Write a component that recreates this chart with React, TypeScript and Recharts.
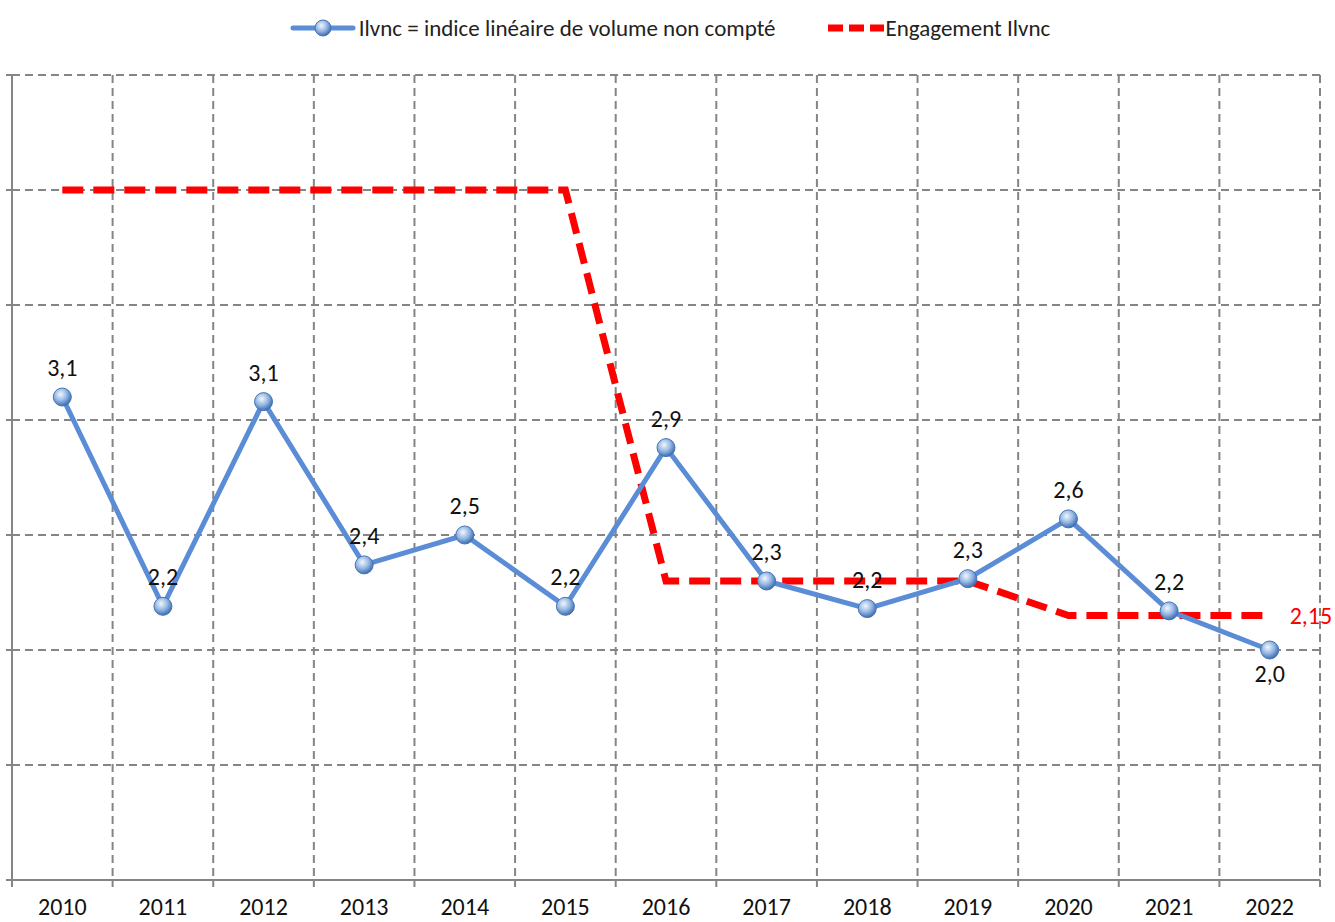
import React from 'react';
import { LineChart, Line, XAxis, YAxis, CartesianGrid, Legend, LabelList } from 'recharts';

const YEARS = ['2010', '2011', '2012', '2013', '2014', '2015', '2016', '2017', '2018', '2019', '2020', '2021', '2022'];
const ILVNC = [3.1, 2.19, 3.08, 2.37, 2.5, 2.19, 2.88, 2.3, 2.18, 2.31, 2.57, 2.17, 2.0];
const ENGAGEMENT = [4.0, 4.0, 4.0, 4.0, 4.0, 4.0, 2.3, 2.3, 2.3, 2.3, 2.15, 2.15, 2.15];
const Y_TICKS = [1, 1.5, 2, 2.5, 3, 3.5, 4, 4.5];

const data = YEARS.map((year, i) => ({ year, ilvnc: ILVNC[i], engagement: ENGAGEMENT[i] }));

const W = 1335;
const H = 922;
const M = { top: 0, right: 15, left: 0, bottom: 0 };
const Y_AXIS_W = 12;
const BAND = (W - M.right - Y_AXIS_W) / YEARS.length;

const FONT = 'Carlito, Lato, "Noto Sans", sans-serif';
const BLUE = '#5b8dd6';
const RED = '#ff0000';
const GRID = '#858585';

const fmt = (v: number) => v.toFixed(1).replace('.', ',');

const Sphere = (props: any) => {
  const { cx, cy } = props;
  if (cx == null || cy == null) return null;
  return <circle cx={cx} cy={cy} r={9} fill="url(#sphere)" stroke="#4574b5" strokeWidth={1} />;
};

const ValueLabel = (props: any) => {
  const { x, y, value, index } = props;
  if (x == null || y == null) return null;
  const below = index === ILVNC.length - 1;
  return (
    <text x={x} y={below ? y + 32 : y - 21} textAnchor="middle" fontSize={24} fill="#111" fontFamily={FONT}>
      {fmt(value)}
    </text>
  );
};

// only the last step of the commitment gets its value written
const TargetLabel = (props: any) => {
  const { x, y, value, index } = props;
  if (index !== ENGAGEMENT.length - 1 || x == null) return null;
  return (
    <text x={x + 20} y={y + 8} fontSize={24} fill={RED} fontFamily={FONT}>
      {String(value).replace('.', ',')}
    </text>
  );
};

// year label in the middle of each band, tick marks on the band edges
const YearTick = (props: any) => {
  const { x, y, payload, index, visibleTicksCount } = props;
  const last = index === visibleTicksCount - 1;
  return (
    <g>
      <line x1={x - BAND / 2} x2={x - BAND / 2} y1={y} y2={y + 7} stroke={GRID} strokeWidth={2} />
      {last && <line x1={x + BAND / 2} x2={x + BAND / 2} y1={y} y2={y + 7} stroke={GRID} strokeWidth={2} />}
      <text x={x} y={y + 35} textAnchor="middle" fontSize={24} fill="#111" fontFamily={FONT}>
        {payload.value}
      </text>
    </g>
  );
};

const LegendContent = () => (
  <div
    style={{
      display: 'flex',
      justifyContent: 'center',
      alignItems: 'center',
      height: 56,
      fontFamily: FONT,
      fontSize: 23,
      color: '#222',
      paddingLeft: 20,
    }}
  >
    <svg width={66} height={22} style={{ marginRight: 3 }}>
      <defs>
        <radialGradient id="sphereLegend" cx="40%" cy="35%" r="65%">
          <stop offset="0%" stopColor="#f2f7fd" />
          <stop offset="55%" stopColor="#93b6e3" />
          <stop offset="100%" stopColor="#3e6db0" />
        </radialGradient>
      </defs>
      <line x1={3} x2={63} y1={11} y2={11} stroke={BLUE} strokeWidth={5} strokeLinecap="round" />
      <circle cx={33} cy={11} r={8} fill="url(#sphereLegend)" stroke="#4574b5" strokeWidth={1} />
    </svg>
    <span>Ilvnc = indice linéaire de volume non compté</span>
    <span style={{ display: 'inline-block', width: 50 }} />
    <svg width={60} height={22}>
      <line x1={2} x2={58} y1={11} y2={11} stroke={RED} strokeWidth={7} strokeDasharray="15 6" />
    </svg>
    <span>Engagement Ilvnc</span>
  </div>
);

export default function App() {
  return (
    <div style={{ position: 'absolute', left: 0, top: 0, width: W, height: H, background: '#fff' }}>
      <LineChart width={W} height={H} data={data} margin={M}>
        <defs>
          <radialGradient id="sphere" cx="40%" cy="35%" r="65%">
            <stop offset="0%" stopColor="#f2f7fd" />
            <stop offset="55%" stopColor="#93b6e3" />
            <stop offset="100%" stopColor="#3e6db0" />
          </radialGradient>
        </defs>
        <Legend verticalAlign="top" height={75} content={<LegendContent />} />
        <CartesianGrid
          stroke={GRID}
          strokeWidth={2}
          strokeDasharray="8 5"
          verticalCoordinatesGenerator={({ offset }: any) =>
            YEARS.map((_, i) => offset.left + (i * offset.width) / YEARS.length).concat(offset.left + offset.width)
          }
        />
        <XAxis
          dataKey="year"
          height={42}
          padding={{ left: BAND / 2, right: BAND / 2 }}
          stroke={GRID}
          strokeWidth={2}
          tickLine={false}
          tickSize={0}
          tickMargin={0}
          interval={0}
          tick={<YearTick />}
        />
        <YAxis
          width={Y_AXIS_W}
          domain={[1, 4.5]}
          ticks={Y_TICKS}
          stroke={GRID}
          strokeWidth={2}
          tickSize={6}
          tickFormatter={() => ''}
        />
        <Line
          dataKey="engagement"
          type="linear"
          stroke={RED}
          strokeWidth={7}
          strokeDasharray="21 10"
          dot={false}
          activeDot={false}
          isAnimationActive={false}
        >
          <LabelList dataKey="engagement" content={<TargetLabel />} />
        </Line>
        <Line
          dataKey="ilvnc"
          type="linear"
          stroke={BLUE}
          strokeWidth={5}
          dot={<Sphere />}
          activeDot={false}
          isAnimationActive={false}
        >
          <LabelList dataKey="ilvnc" content={<ValueLabel />} />
        </Line>
      </LineChart>
    </div>
  );
}
